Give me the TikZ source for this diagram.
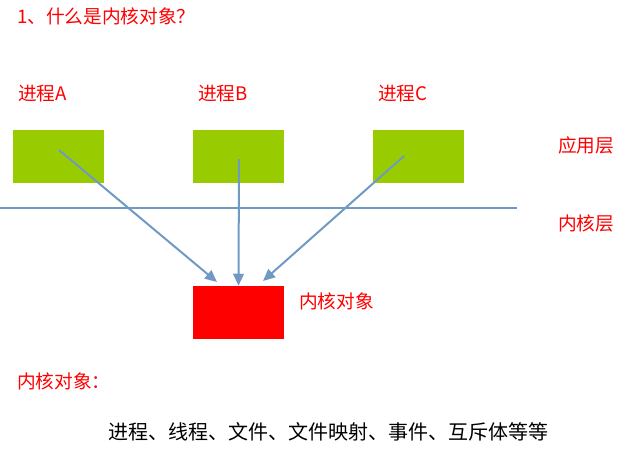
\documentclass[tikz,border=0pt]{standalone}
\usepackage{fontspec}
\newfontfamily\cjk{Noto Sans CJK SC}
\usetikzlibrary{arrows.meta}
\definecolor{appgreen}{RGB}{153,204,0}
\definecolor{linkblue}{RGB}{112,153,196}

\begin{document}
\begin{tikzpicture}[x=0.75pt, y=-0.75pt,
  txt/.style={anchor=west, inner sep=0pt, red, font=\cjk\fontsize{14}{16}\selectfont},
  appbox/.style={fill=appgreen, minimum width=68.25pt, minimum height=39.75pt, inner sep=0pt},
  kbox/.style={fill=red, minimum width=68.25pt, minimum height=39.75pt, inner sep=0pt},
  link/.style={linkblue, line width=1.5pt, -{Triangle[length=9pt, width=8pt]}}]
  \useasboundingbox (0,0) rectangle (628,451);
  % 标题
  \node[txt] (title) at (17,16) {1、什么是内核对象？};
  % 三个进程
  \node[txt] (la) at (18,94) {进程A};
  \node[txt] (lb) at (198,94) {进程B};
  \node[txt] (lc) at (378,94) {进程C};
  \node[appbox] (pa) at (58.5,156.5) {};
  \node[appbox] (pb) at (238.5,156.5) {};
  \node[appbox] (pc) at (418.5,156.5) {};
  % 分层线
  \coordinate (l0) at (0,208);
  \coordinate (l1) at (517,208);
  \draw[linkblue, line width=1.5pt] (l0) -- (l1);
  \node[txt] (app) at (558,145) {应用层};
  \node[txt] (ker) at (558,223) {内核层};
  % 内核对象
  \node[kbox] (kobj) at (238.5,312.5) {};
  \node[txt] (lk) at (299,301) {内核对象};
  \coordinate (sa) at (59,150);
  \coordinate (sb) at (239,159);
  \coordinate (sc) at (404,156);
  \coordinate (ea) at (217,282);
  \coordinate (ec) at (263,281);
  \draw[link] (sa) -- (ea);
  \draw[link] (sb) -- (kobj.north);
  \draw[link] (sc) -- (ec);
  % 说明
  \node[txt] (kt) at (17,381) {内核对象：};
  \node[txt, black, font=\cjk\fontsize{15}{17}\selectfont] (list) at (108,432)
    {进程、线程、文件、文件映射、事件、互斥体等等};
\end{tikzpicture}
\end{document}
